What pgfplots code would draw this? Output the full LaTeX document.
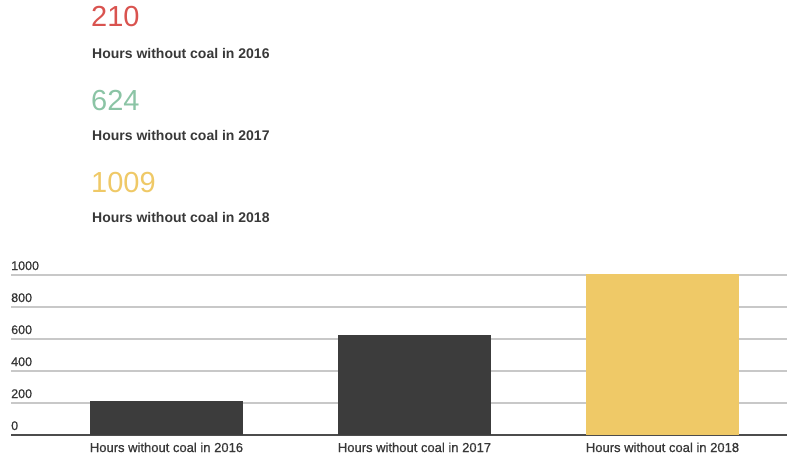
\documentclass[border=0pt]{standalone}
\usepackage{fontspec}
\setmainfont{Liberation Sans}
\newfontfamily\medfont[FakeBold=0.8]{Liberation Sans}
\usepackage{pgfplots}
\pgfplotsset{compat=1.18}
\definecolor{cred}{HTML}{D9534F}
\definecolor{cgreen}{HTML}{8BC4A5}
\definecolor{cyellow}{HTML}{EFC967}
\definecolor{cdark}{HTML}{3C3C3C}
\definecolor{ctext}{HTML}{383838}
\definecolor{cgrid}{HTML}{C8C8C8}
\begin{document}
\begin{tikzpicture}[x=1pt,y=1pt]
\path[use as bounding box] (0,0) rectangle (808,-471);
\node[anchor=base west, inner sep=0, font=\fontsize{29}{30}\selectfont, text=cred] at (91,-27) {210};
\node[anchor=base west, inner sep=0, font=\fontsize{14}{16}\selectfont\bfseries, text=ctext] at (92,-58) {Hours without coal in 2016};
\node[anchor=base west, inner sep=0, font=\fontsize{29}{30}\selectfont, text=cgreen] at (91,-110) {624};
\node[anchor=base west, inner sep=0, font=\fontsize{14}{16}\selectfont\bfseries, text=ctext] at (92,-140.5) {Hours without coal in 2017};
\node[anchor=base west, inner sep=0, font=\fontsize{29}{30}\selectfont, text=cyellow] at (91,-192) {1009};
\node[anchor=base west, inner sep=0, font=\fontsize{14}{16}\selectfont\bfseries, text=ctext] at (92,-222.7) {Hours without coal in 2018};
\begin{axis}[
  at={(11pt,-435pt)}, anchor=south west,
  scale only axis, width=776pt, height=160pt,
  xmin=-0.627, xmax=2.502, ymin=0, ymax=1000,
  clip=false,
  ybar, bar width=153pt, bar shift=0pt,
  xtick={0,1,2},
  xticklabels={Hours without coal in 2016,Hours without coal in 2017,Hours without coal in 2018},
  ytick={0,200,400,600,800,1000},
  /pgf/number format/1000 sep={},
  /pgf/number format/assume math mode=true,
  major tick length=0pt,
  axis lines*=left,
  y axis line style={draw=none},
  x axis line style={draw=black!70, line width=1.6pt},
  ymajorgrids,
  major grid style={draw=cgrid, line width=1.2pt},
  yticklabel style={anchor=base west, inner sep=0pt, yshift=5pt, xshift=0pt, font=\medfont\fontsize{12.5}{14}\selectfont, text=ctext},
  xticklabel style={anchor=base, inner sep=0pt, yshift=-17pt, font=\medfont\fontsize{13}{15}\selectfont, text=ctext},
]
\addplot[fill=cdark, draw=none] coordinates {(0,210)};
\addplot[fill=cdark, draw=none] coordinates {(1,624)};
\addplot[fill=cyellow, draw=none] coordinates {(2,1009)};
\end{axis}
\end{tikzpicture}
\end{document}
